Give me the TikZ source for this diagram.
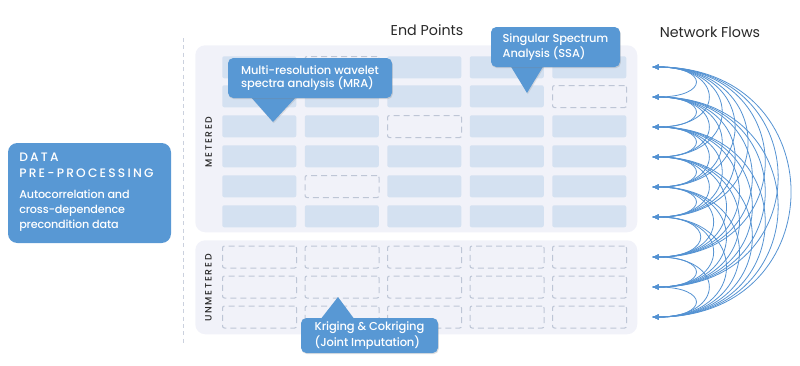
\documentclass[tikz,border=0pt]{standalone}
\usepackage{fontspec}
\setmainfont{Poppins}
\newfontfamily\pmed{Poppins}[UprightFont=* Medium]
\usetikzlibrary{arrows.meta,shadows,calc}
\definecolor{boxblue}{RGB}{88,152,212}
\definecolor{panelfill}{RGB}{241,242,249}
\definecolor{cellfill}{RGB}{212,225,241}
\definecolor{dashgray}{RGB}{190,198,214}
\definecolor{headtext}{RGB}{40,40,40}
\definecolor{flowblue}{RGB}{84,146,210}
\tikzset{
  panel/.style={fill=panelfill,rounded corners=7.5pt,minimum width=331.5pt,inner sep=0pt,anchor=north west},
  cell/.style={fill=cellfill,rounded corners=1.5pt,minimum width=55.5pt,minimum height=16.5pt,inner sep=0pt,anchor=north west},
  gapcell/.style={draw=dashgray,line width=0.8pt,dash pattern=on 4.5pt off 3pt,rounded corners=1.5pt,minimum width=55.5pt,minimum height=16.5pt,inner sep=0pt,anchor=north west},
  callout/.style={fill=boxblue,rounded corners=4pt,inner sep=0pt,text=white,font=\pmed\fontsize{8.6}{10.3}\selectfont\addfontfeatures{LetterSpace=-1},align=left,drop shadow={opacity=0.25,shadow xshift=0.6pt,shadow yshift=-0.9pt}},
  pointer/.style={fill=boxblue},
  header/.style={text=headtext,font=\fontsize{10.7}{12}\selectfont},
  sidelabel/.style={text=headtext,rotate=90,font=\pmed\fontsize{7}{8}\selectfont\addfontfeatures{LetterSpace=18}},
  pretitle/.style={anchor=north west,inner sep=0pt,text=white,align=left,font=\pmed\fontsize{9.2}{12}\selectfont\addfontfeatures{LetterSpace=18}},
  predesc/.style={anchor=north west,inner sep=0pt,text=white,align=left,font=\pmed\fontsize{8.4}{11}\selectfont\addfontfeatures{LetterSpace=-1.5}},
  flow/.style={draw=flowblue,line width=0.6pt,{Latex[length=5pt,width=4pt]}-{Latex[length=5pt,width=4pt]}},
  divider/.style={draw=dashgray!80,line width=0.6pt,dash pattern=on 3pt off 2.5pt}
}
\begin{document}
\begin{tikzpicture}[x=0.75pt,y=-0.75pt]
\useasboundingbox (0,0) rectangle (800,365);
% divider
\coordinate (dvt) at (183,38);
\coordinate (dvb) at (183,345);
\draw[divider] (dvt) -- (dvb);
% left box
\node[fill=boxblue,rounded corners=7pt,minimum width=122.25pt,minimum height=75pt,inner sep=0pt] (pre) at (89.5,193) {};
\node[pretitle] (pretitle) at (19,153) {DATA\\PRE-PROCESSING};
\node[predesc] (predesc) at (19,190) {Autocorrelation and\\cross-dependence\\precondition data};
% headers
\node[header] (hep) at (427,30) {End Points};
\node[header] (hnf) at (710,32) {Network Flows};
% panels
\node[panel,minimum height=140.25pt] (met) at (195,45) {};
\node[panel,minimum height=70.5pt] (unmet) at (195,240) {};
\node[sidelabel] (lmet) at (208.5,142) {METERED};
\node[sidelabel] (lunmet) at (208.5,288) {UNMETERED};
% metered cells
\foreach \r/\y in {1/56,2/85,3/115,4/145,5/175,6/205}{
  \foreach \c/\x in {1/222,2/304.5,3/387,4/469.5,5/552}{
    \ifnum\r\c=12 \node[gapcell] (m\r\c) at (\x,\y) {};
    \else\ifnum\r\c=25 \node[gapcell] (m\r\c) at (\x,\y) {};
    \else\ifnum\r\c=33 \node[gapcell] (m\r\c) at (\x,\y) {};
    \else\ifnum\r\c=52 \node[gapcell] (m\r\c) at (\x,\y) {};
    \else \node[cell] (m\r\c) at (\x,\y) {};
    \fi\fi\fi\fi
  }
}
% unmetered cells
\foreach \r/\y in {1/245.5,2/275.5,3/305.5}{
  \foreach \c/\x in {1/222,2/304.5,3/387,4/469.5,5/552}{
    \node[gapcell] (u\r\c) at (\x,\y) {};
  }
}
% callouts
\coordinate (mraTip) at (273,122);
\coordinate (ssaTip) at (527,93);
\coordinate (krTip) at (338,297);
\fill[pointer,drop shadow={opacity=0.2,shadow xshift=0.6pt,shadow yshift=-0.9pt}] (250,96) -- (mraTip) -- (297,96) -- cycle;
\node[callout,minimum width=123pt,minimum height=30pt] (mra) at (310,78) {Multi-resolution wavelet\\spectra analysis (MRA)};
\fill[pointer,drop shadow={opacity=0.2,shadow xshift=0.6pt,shadow yshift=-0.9pt}] (510,65) -- (ssaTip) -- (544,65) -- cycle;
\node[callout,minimum width=96.75pt,minimum height=30pt] (ssa) at (555.5,47) {Singular Spectrum\\Analysis (SSA)};
\fill[pointer] (320,320) -- (krTip) -- (355,320) -- cycle;
\node[callout,minimum width=102.75pt,minimum height=26.25pt] (kr) at (369.5,335.5) {Kriging \& Cokriging\\(Joint Imputation)};
% network flows
\def\yarr{{67,97,127,157,187,217,257,287,317}}
\foreach \y [count=\i] in {67,97,127,157,187,217,257,287,317}{
  \coordinate (f\i) at (652,\y);
}
\foreach \i in {1,...,8}{
  \pgfmathtruncatemacro\s{\i+1}
  \foreach \j in {\s,...,9}{
    \pgfmathsetmacro\d{\yarr[\j-1]-\yarr[\i-1]}
    \pgfmathsetmacro\cc{(30+0.43*\d)/0.75}
    \draw[flow] (f\i) .. controls +(\cc,0) and +(\cc,0) .. (f\j);
  }
}
\end{tikzpicture}
\end{document}
